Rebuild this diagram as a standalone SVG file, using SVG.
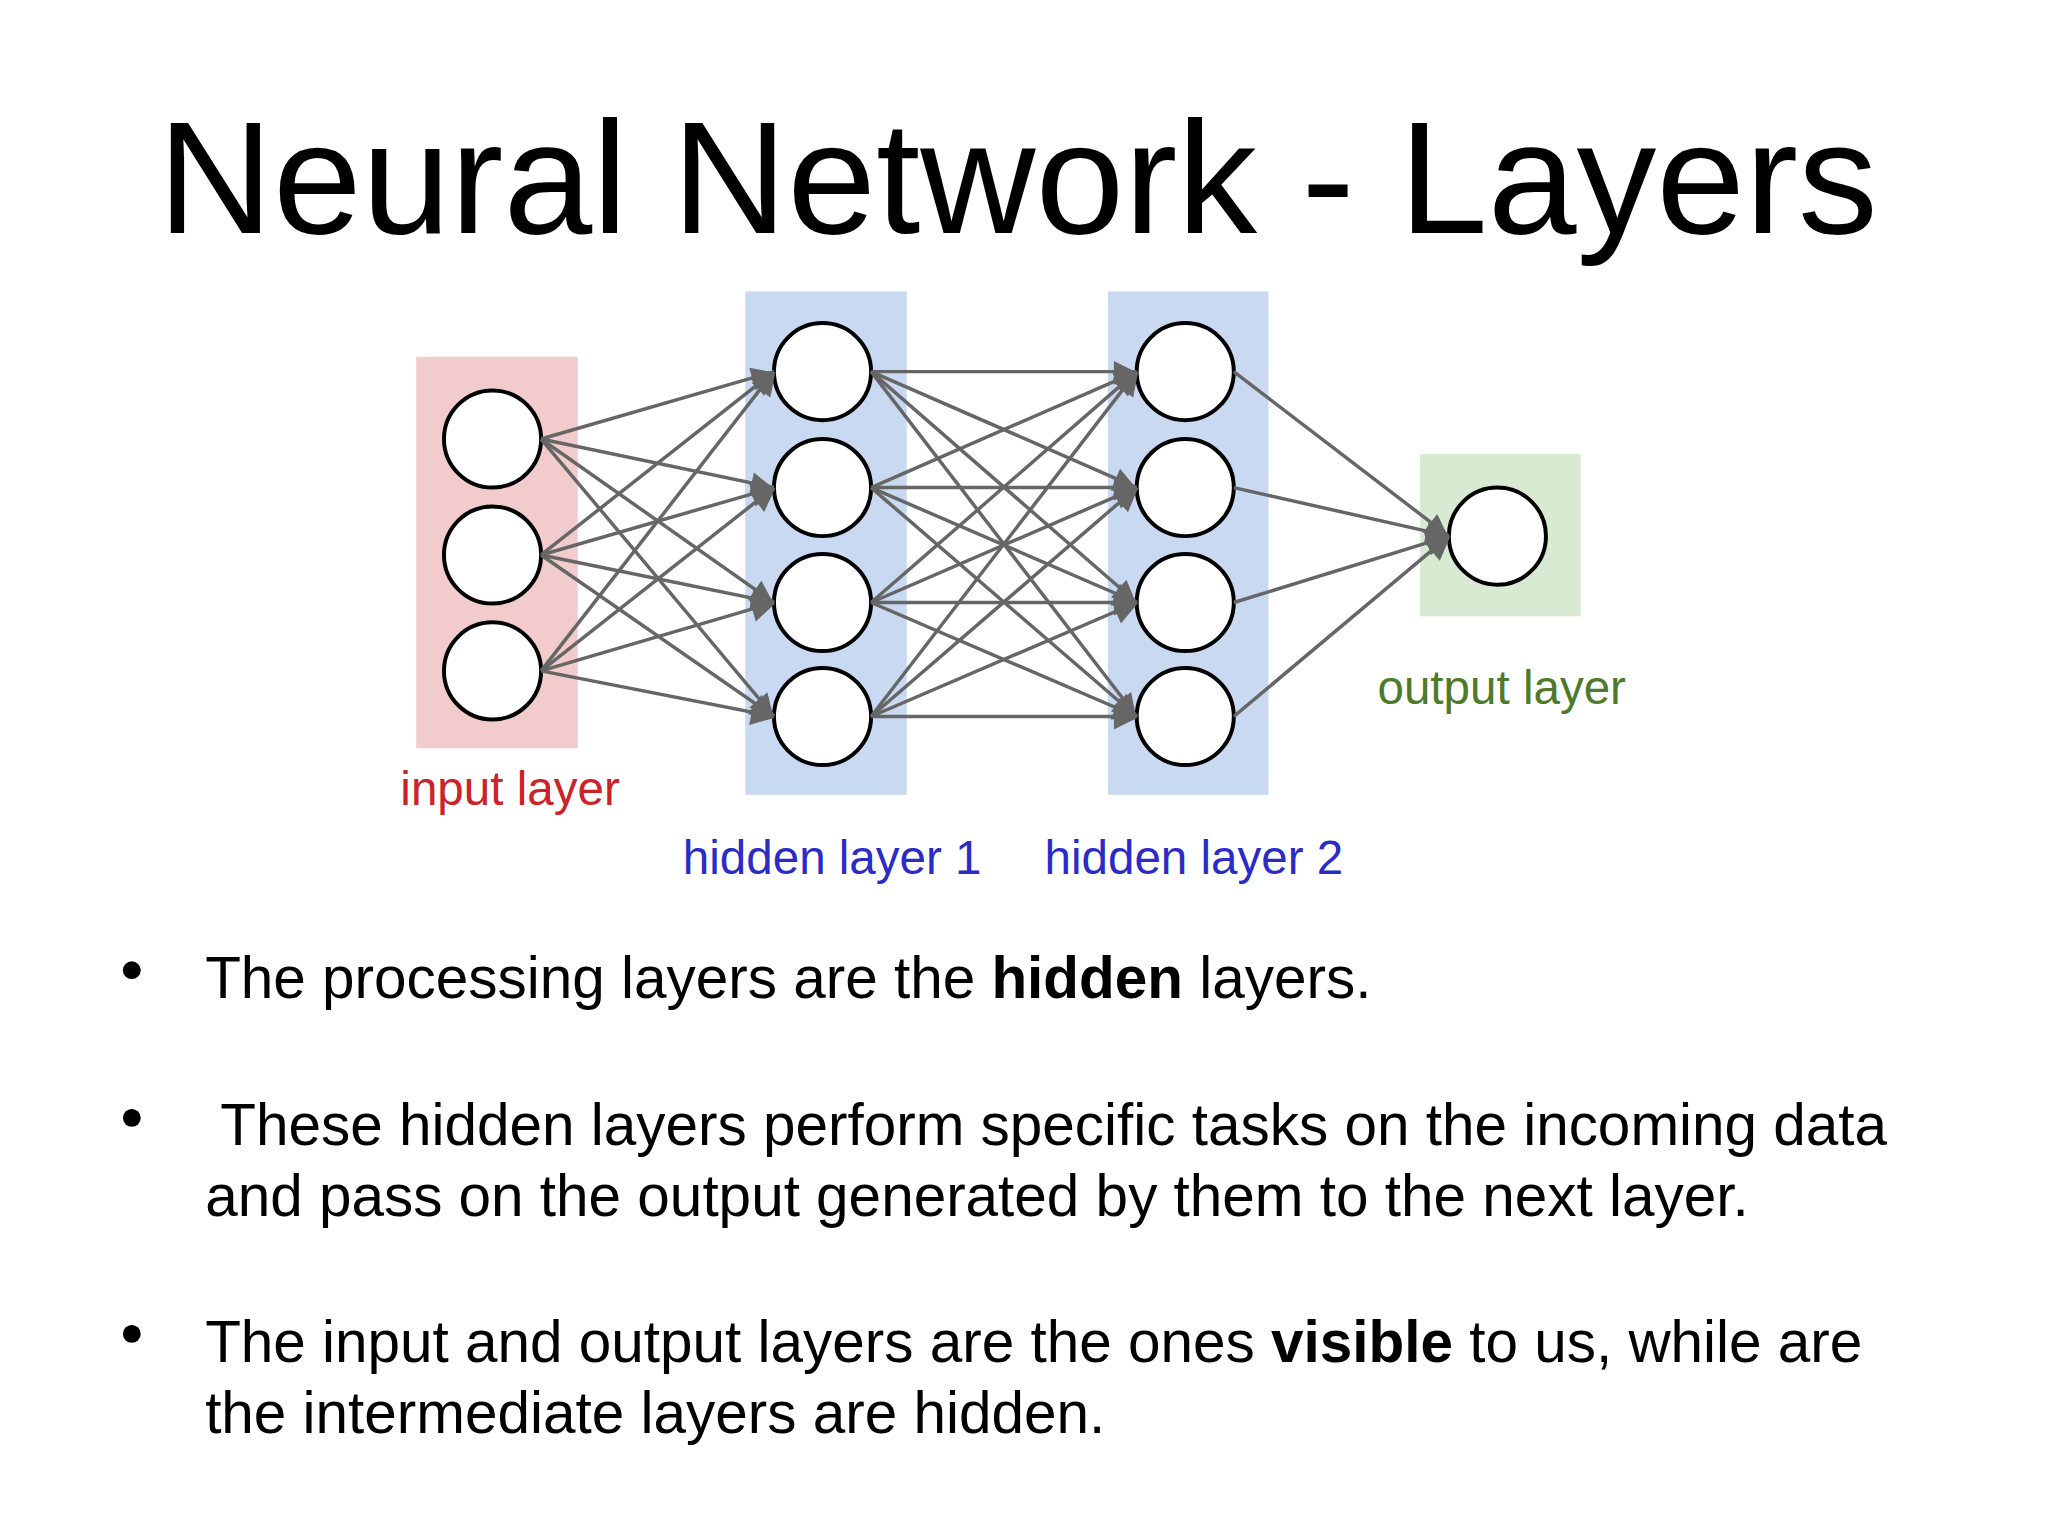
<svg xmlns="http://www.w3.org/2000/svg" width="2048" height="1536" viewBox="0 0 2048 1536">
<style>
.n{fill:#fff;stroke:#000;stroke-width:4}
.e{stroke:#666;stroke-width:3.5;fill:none}
.t{font-family:"Liberation Sans",Arial,sans-serif}
.b{font-family:"Liberation Sans",Arial,sans-serif;font-size:59px;fill:#000}
</style>
<defs><marker id="a" viewBox="0 0 10 10" refX="9" refY="5" markerWidth="7" markerHeight="7" markerUnits="userSpaceOnUse" orient="auto" style="overflow:visible"><path d="M0,0 L10,5 L0,10 z" fill="#666" transform="scale(3.4) translate(-7,-3)"/></marker></defs>
<rect width="2048" height="1536" fill="#fff"/>
<g transform="scale(0.991)">
<text class="t" x="1027" y="235" font-size="161" text-anchor="middle">Neural Network - Layers</text>
<g id="input-layer"><rect x="420" y="360" width="163" height="395" fill="#f2cccc"/>
<circle class="n" cx="497" cy="443" r="49"/><circle class="n" cx="497" cy="560" r="49"/><circle class="n" cx="497" cy="677" r="49"/>
<text class="t" x="404" y="812" font-size="48" fill="#cc2229">input layer</text></g>
<g id="hidden-layer-1"><rect x="752" y="294" width="163" height="508" fill="#c9d9f2"/>
<circle class="n" cx="830" cy="375" r="49"/><circle class="n" cx="830" cy="492" r="49"/><circle class="n" cx="830" cy="608" r="49"/><circle class="n" cx="830" cy="723" r="49"/>
<text class="t" x="689" y="882" font-size="48" fill="#2b2bc8">hidden layer 1</text></g>
<g id="hidden-layer-2"><rect x="1118" y="294" width="162" height="508" fill="#c9d9f2"/>
<circle class="n" cx="1196" cy="375" r="49"/><circle class="n" cx="1196" cy="492" r="49"/><circle class="n" cx="1196" cy="608" r="49"/><circle class="n" cx="1196" cy="723" r="49"/>
<text class="t" x="1054" y="882" font-size="48" fill="#2b2bc8">hidden layer 2</text></g>
<g id="output-layer"><rect x="1433" y="458" width="162" height="164" fill="#d9ead3"/>
<circle class="n" cx="1511" cy="541" r="49"/>
<text class="t" x="1390" y="710" font-size="48" fill="#4f7a2a">output layer</text></g>
<g id="connectors" class="e">
<line x1="546" y1="443" x2="781" y2="375" marker-end="url(#a)"/><line x1="546" y1="560" x2="781" y2="375" marker-end="url(#a)"/><line x1="546" y1="677" x2="781" y2="375" marker-end="url(#a)"/>
<line x1="546" y1="443" x2="781" y2="492" marker-end="url(#a)"/><line x1="546" y1="560" x2="781" y2="492" marker-end="url(#a)"/><line x1="546" y1="677" x2="781" y2="492" marker-end="url(#a)"/>
<line x1="546" y1="443" x2="781" y2="608" marker-end="url(#a)"/><line x1="546" y1="560" x2="781" y2="608" marker-end="url(#a)"/><line x1="546" y1="677" x2="781" y2="608" marker-end="url(#a)"/>
<line x1="546" y1="443" x2="781" y2="723" marker-end="url(#a)"/><line x1="546" y1="560" x2="781" y2="723" marker-end="url(#a)"/><line x1="546" y1="677" x2="781" y2="723" marker-end="url(#a)"/>
<line x1="879" y1="375" x2="1147" y2="375" marker-end="url(#a)"/><line x1="879" y1="492" x2="1147" y2="375" marker-end="url(#a)"/><line x1="879" y1="608" x2="1147" y2="375" marker-end="url(#a)"/><line x1="879" y1="723" x2="1147" y2="375" marker-end="url(#a)"/>
<line x1="879" y1="375" x2="1147" y2="492" marker-end="url(#a)"/><line x1="879" y1="492" x2="1147" y2="492" marker-end="url(#a)"/><line x1="879" y1="608" x2="1147" y2="492" marker-end="url(#a)"/><line x1="879" y1="723" x2="1147" y2="492" marker-end="url(#a)"/>
<line x1="879" y1="375" x2="1147" y2="608" marker-end="url(#a)"/><line x1="879" y1="492" x2="1147" y2="608" marker-end="url(#a)"/><line x1="879" y1="608" x2="1147" y2="608" marker-end="url(#a)"/><line x1="879" y1="723" x2="1147" y2="608" marker-end="url(#a)"/>
<line x1="879" y1="375" x2="1147" y2="723" marker-end="url(#a)"/><line x1="879" y1="492" x2="1147" y2="723" marker-end="url(#a)"/><line x1="879" y1="608" x2="1147" y2="723" marker-end="url(#a)"/><line x1="879" y1="723" x2="1147" y2="723" marker-end="url(#a)"/>
<line x1="1245" y1="375" x2="1462" y2="541" marker-end="url(#a)"/><line x1="1245" y1="492" x2="1462" y2="541" marker-end="url(#a)"/><line x1="1245" y1="608" x2="1462" y2="541" marker-end="url(#a)"/><line x1="1245" y1="723" x2="1462" y2="541" marker-end="url(#a)"/>
</g>
<g id="bullets">
<circle cx="133" cy="979" r="9"/><circle cx="133" cy="1128" r="9"/><circle cx="133" cy="1346" r="9"/>
<text class="b" x="207" y="1007">The processing layers are the <tspan font-weight="bold">hidden</tspan> layers.</text>
<text class="b" x="207" y="1155" xml:space="preserve"> These hidden layers perform specific tasks on the incoming data</text>
<text class="b" x="207" y="1227">and pass on the output generated by them to the next layer.</text>
<text class="b" x="207" y="1374">The input and output layers are the ones <tspan font-weight="bold">visible</tspan> to us, while are</text>
<text class="b" x="207" y="1446">the intermediate layers are hidden.</text>
</g>
</g>
</svg>
